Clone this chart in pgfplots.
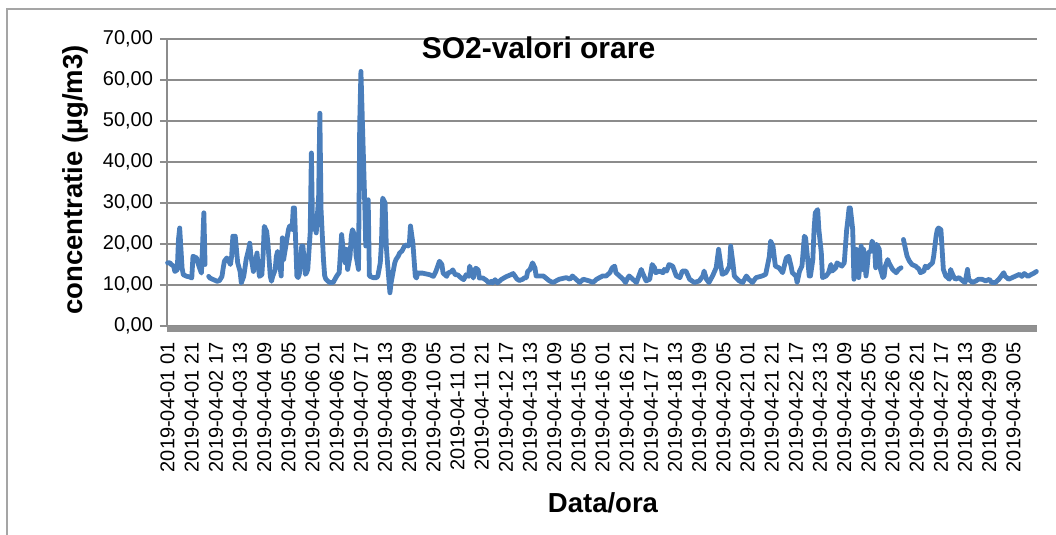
\documentclass[border=0pt]{standalone}
\usepackage{fontspec}
\setmainfont{Liberation Sans}
\usepackage{pgfplots}
\pgfplotsset{compat=1.18}
\definecolor{so2}{RGB}{74,126,187}
\definecolor{gridc}{RGB}{140,140,140}
\definecolor{barc}{RGB}{145,145,145}
\definecolor{framec}{RGB}{165,165,165}
\begin{document}
\begin{tikzpicture}
\useasboundingbox (0,0) rectangle (528pt,267.5pt);
\draw[framec, line width=0.8pt] (3.5pt,-2pt) -- (3.5pt,263pt) -- (530pt,263pt);
\begin{axis}[
  at={(83.5pt,104.5pt)}, anchor=south west,
  scale only axis, width=435pt, height=143.5pt,
  xmin=-0.5, xmax=719.5, ymin=0, ymax=70,
  clip=false,
  ytick={0,10,...,70},
  xtick={0,20,...,700},
  xticklabels={2019-04-01 01,2019-04-01 21,2019-04-02 17,2019-04-03 13,2019-04-04 09,2019-04-05 05,2019-04-06 01,2019-04-06 21,2019-04-07 17,2019-04-08 13,2019-04-09 09,2019-04-10 05,2019-04-11 01,2019-04-11 21,2019-04-12 17,2019-04-13 13,2019-04-14 09,2019-04-15 05,2019-04-16 01,2019-04-16 21,2019-04-17 17,2019-04-18 13,2019-04-19 09,2019-04-20 05,2019-04-21 01,2019-04-21 21,2019-04-22 17,2019-04-23 13,2019-04-24 09,2019-04-25 05,2019-04-26 01,2019-04-26 21,2019-04-27 17,2019-04-28 13,2019-04-29 09,2019-04-30 05},
  axis line style={draw=none},
  ymajorgrids, grid style={gridc, line width=0.6pt},
  ytick pos=left, tick align=outside,
  ytick style={gridc, line width=0.6pt},
  major tick length=3.5pt,
  xtick style={draw=none},
  tick label style={font=\fontsize{10}{12}\selectfont, text=black},
  yticklabel style={/pgf/number format/.cd, fixed, fixed zerofill, precision=2, use comma, assume math mode=true},
  xticklabel style={rotate=90, anchor=east, yshift=0pt, xshift=-1pt},
  unbounded coords=jump,
]
\draw[barc, line width=3pt] ([yshift=-1.6pt]rel axis cs:0,0) -- ([yshift=-1.6pt]rel axis cs:1,0);
\draw[gridc, line width=0.6pt] (rel axis cs:0,0) -- (rel axis cs:0,1);
\addplot[so2, line width=2.4pt, line join=round, line cap=round] table {
x y
0 15.4
2 15.4
3 15.0
5 14.6
6 13.3
8 13.7
9 21.1
10 23.9
12 14.1
13 12.5
16 12.1
18 12.0
20 11.7
21 17.0
24 16.6
25 15.4
27 13.7
28 12.9
30 27.6
31 15.0
32 nan
34 12.1
35 11.7
38 11.3
41 10.9
43 11.1
45 12.1
46 14.1
47 15.8
49 16.6
50 16.2
52 15.0
53 17.0
54 21.9
56 21.9
57 18.6
58 15.4
60 13.3
61 10.5
63 12.1
64 14.1
65 16.2
67 18.6
68 20.2
69 17.0
71 13.3
72 15.0
74 17.8
75 14.6
76 12.1
78 12.5
79 17.0
80 24.3
82 23.1
83 20.2
85 12.1
86 10.9
87 12.1
89 13.7
90 17.0
91 18.2
93 14.6
94 12.2
95 21.5
96 16.2
98 19.8
100 23.5
101 24.4
103 23.5
104 28.8
105 28.8
107 12.2
108 11.8
109 12.6
111 19.5
112 19.5
114 12.6
115 13.0
116 13.8
118 22.7
119 42.2
120 23.5
122 25.2
123 22.7
125 31.7
126 51.9
127 28.4
129 16.2
130 12.2
131 11.4
134 10.6
137 10.6
140 12.2
142 13.0
144 22.3
145 19.5
147 15.4
148 18.7
149 13.8
151 17.1
152 21.9
153 23.5
155 21.9
156 17.1
158 13.8
159 49.5
160 62.1
163 31.7
164 19.5
166 30.8
167 12.2
170 11.8
173 11.8
174 12.2
176 15.4
177 20.3
178 31.2
180 30.0
181 19.5
182 15.4
184 8.1
185 10.6
187 13.8
188 15.4
189 16.2
191 17.1
192 17.8
194 18.3
196 19.5
198 19.8
199 19.5
200 19.8
201 24.4
203 20.2
205 12.1
206 11.7
207 12.9
211 12.9
217 12.5
220 12.1
222 13.3
225 15.8
227 15.0
228 12.9
231 12.1
232 12.9
235 13.3
236 13.7
238 12.5
240 12.5
243 11.7
245 11.3
247 12.5
249 12.1
250 14.6
251 13.7
253 11.7
254 13.3
255 14.1
257 13.7
258 11.7
261 11.7
264 11.1
266 10.5
268 10.9
269 10.5
271 11.3
273 10.5
276 11.3
280 12.0
284 12.5
286 12.8
289 11.5
291 11.1
294 11.4
295 11.7
297 11.8
298 13.3
300 13.8
302 15.4
304 14.2
305 12.2
311 12.2
316 11.0
319 10.6
324 11.4
330 11.8
333 11.4
335 12.2
338 11.4
341 10.6
344 11.4
349 11.0
352 10.6
355 11.4
360 12.2
363 12.2
366 13.0
368 14.2
370 14.6
371 13.0
374 12.2
377 11.4
379 10.6
381 11.8
382 12.2
385 11.4
388 10.6
390 12.2
392 13.8
393 13.0
396 11.0
399 11.4
401 15.0
403 14.2
404 13.0
407 13.4
410 13.0
411 13.8
413 13.4
415 15.0
418 14.6
421 12.2
424 11.8
426 13.4
429 13.4
432 11.4
436 10.6
440 11.0
443 12.2
444 13.4
446 11.4
448 10.6
451 12.2
454 14.2
456 18.7
458 14.6
459 12.6
462 13.0
465 14.6
466 19.5
468 15.0
469 12.2
473 11.0
476 10.6
479 12.2
481 11.4
484 10.6
487 11.8
492 12.2
495 12.6
498 17.0
499 20.7
501 19.5
502 17.0
503 14.6
506 14.2
509 13.0
510 14.2
512 16.6
514 17.0
516 14.6
517 13.0
520 12.2
521 10.6
523 13.4
525 14.6
527 21.9
528 21.5
530 15.4
531 12.2
532 12.2
534 16.2
535 23.5
536 27.6
538 28.4
539 23.5
541 17.9
542 11.8
545 12.2
547 13.0
549 15.0
550 13.4
553 14.2
554 15.4
556 15.0
558 14.6
560 15.4
561 19.5
562 23.5
563 26.0
564 28.8
565 28.8
567 23.5
568 11.4
570 18.7
571 14.6
572 11.8
574 19.5
575 13.8
576 18.7
578 12.2
579 14.6
580 17.9
582 18.3
583 20.7
585 19.5
586 14.2
587 19.9
589 18.7
590 13.8
592 11.8
593 12.2
594 14.6
596 16.2
597 15.4
600 13.8
603 13.0
605 13.8
607 14.2
608 nan
609 21.1
611 18.3
612 17.0
614 15.8
616 15.0
619 14.6
622 13.8
623 13.0
626 13.4
627 14.6
629 14.2
630 14.6
633 15.4
634 17.0
636 21.9
637 23.5
638 23.9
640 23.5
641 18.7
642 13.8
644 12.2
647 11.4
648 13.8
649 13.0
651 11.8
652 11.4
655 11.8
658 11.0
660 10.6
662 13.8
663 11.4
666 10.6
669 11.0
671 11.4
674 11.4
677 11.0
680 11.4
682 10.6
685 10.6
688 11.4
691 12.6
692 13.0
693 12.2
696 11.4
699 11.8
702 12.2
705 12.6
707 12.1
709 12.8
712 12.1
715 12.6
717 12.9
719 13.3
};
\end{axis}
\node[font=\bfseries\fontsize{15}{18}\selectfont, anchor=base] at (269.25pt,238pt) {SO2-valori orare};
\node[font=\bfseries\fontsize{13.75}{16}\selectfont, rotate=90] at (37.5pt,177.5pt) {concentratie (µg/m3)};
\node[font=\bfseries\fontsize{13.75}{16}\selectfont] at (301.5pt,16pt) {Data/ora};
\end{tikzpicture}
\end{document}
